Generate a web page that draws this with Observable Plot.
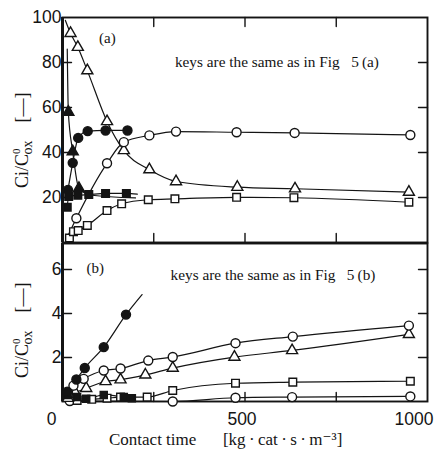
<!DOCTYPE html>
<html><head><meta charset="utf-8">
<script src="https://cdn.jsdelivr.net/npm/d3@7"></script>
<script src="https://cdn.jsdelivr.net/npm/@observablehq/plot@0.6"></script>
<style>
html,body{margin:0;padding:0;background:#fff;}
#chart{position:relative;width:436px;height:449px;overflow:hidden;}
#chart svg{position:absolute;left:0;display:block;}
</style></head><body><div id="chart"></div>
<script>
// ---------- axis ticks ----------
const xTickLabels = [0, 500, 1000];
const xInnerTicks = [250, 500, 750];
const yTicksA = [20, 40, 60, 80, 100];
const yInnerTicksA = [20, 40, 60, 80];
const yTicksB = [2, 4, 6];

// ---------- panel (a): [contact time, Ci/C0ox] ----------
const aOpenTri = [[22,93],[42,86.8],[68,76.4],[122,53.8],[168,40.9],[238,32.4],[311,27.1],[479,24.6],[637,23.9],[949,22.4]];
const aOpenTriStart = [[8,98.7]];
const aOpenCircle = [[38,10.8],[122,35.2],[168,44.6],[238,47.6],[311,49.3],[477,49.0],[636,48.7],[953,47.8]];
const aOpenCircleStart = [[12,2]];
const aOpenSquare = [[19,2],[30,4.8],[43,5.3],[68,7.6],[122,14.2],[162,17.2],[235,19.0],[308,19.4],[477,20.1],[634,19.9],[949,17.9]];
const aFilledCircle = [[15,23.4],[28,35.4],[43,46.5],[69,49.5],[118,49.8],[178,49.8]];
const aFilledTri = [[16,58],[28,40.4],[45,24.1]];
const aFilledTriLine = [[13,86],[16,58],[28,40.4],[45,24.1],[80,21],[200,19.8]];
const aFilledSquare = [[13,15.7],[17,20.5],[42,21],[72,21.3],[118,21.8],[175,21.8]];
const aFilledSquareEnd = [[205,21.5]];

// ---------- panel (b) ----------
const bFilledCircle = [[13,0.45],[38,1.0],[61,1.52],[113,2.47],[174,3.95]];
const bFilledCircleEnd = [[218,4.86]];
const bOpenCircle = [[15,0.35],[30,0.72],[58,1.03],[113,1.41],[159,1.5],[235,1.86],[302,2.02],[474,2.65],[631,2.95],[949,3.45]];
const bOpenTri = [[15,0.15],[35,0.4],[65,0.6],[118,0.91],[159,0.99],[227,1.21],[302,1.52],[471,2.02],[629,2.32],[949,3.05]];
const bOpenSquare = [[40,0.05],[80,0.1],[122,0.15],[159,0.2],[232,0.2],[302,0.5],[474,0.83],[631,0.88],[953,0.92]];
const bOpenCircleLow = [[20,0.02],[302,0.0],[474,0.17],[629,0.2],[953,0.23]];
const bFilledSquare = [[14,0.3],[40,0.2],[65,0.12],[113,0.3],[168,0.2],[190,0.15]];

const INK = "#141414";
const SERIF = "'Liberation Serif', 'DejaVu Serif', serif";
const SANS = "'Liberation Sans', Arial, sans-serif";
const X = d => d[0], Y = d => d[1];
const tickShape = {draw(ctx, l) { ctx.moveTo(0, 0); ctx.lineTo(0, -l); }};

function line(data) {
  return Plot.line(data, {x: X, y: Y, curve: "monotone-x", stroke: INK, strokeWidth: 1.2});
}
function dots(data, symbol, filled, r = 4.5) {
  return Plot.dot(data, {x: X, y: Y, symbol, r, fill: filled ? INK : "white", stroke: INK, strokeWidth: 1.4});
}
function frameMarks(ymax, innerY, withTopTicks) {
  const m = [
    Plot.frame({stroke: INK, strokeWidth: 1.9}),
    Plot.ruleX([0], {stroke: INK, strokeWidth: 3}),
    Plot.vector(innerY, {x: () => 0, y: d => d, length: 9, rotate: 90, anchor: "start", shape: tickShape, stroke: INK, strokeWidth: 1.4}),
    Plot.vector(innerY, {x: () => 1000, y: d => d, length: 9, rotate: -90, anchor: "start", shape: tickShape, stroke: INK, strokeWidth: 1.4}),
    Plot.vector(xInnerTicks, {x: d => d, y: () => 0, length: 9, rotate: 0, anchor: "start", shape: tickShape, stroke: INK, strokeWidth: 1.4})
  ];
  if (withTopTicks) m.push(Plot.vector(xInnerTicks, {x: d => d, y: () => ymax, length: 9, rotate: 180, anchor: "start", shape: tickShape, stroke: INK, strokeWidth: 1.4}));
  return m;
}
function addYLabel(svg, cx, startY) {
  const t = d3.select(svg).append("text")
    .attr("transform", `translate(${cx},${startY}) rotate(-90)`)
    .attr("text-anchor", "start")
    .attr("font-family", SERIF)
    .attr("font-size", 18)
    .attr("fill", INK);
  t.append("tspan").text("Ci/C");
  t.append("tspan").attr("font-size", 11).attr("dy", -8).text("0");
  t.append("tspan").attr("font-size", 14).attr("dx", -6).attr("dy", 12).text("ox");
  t.append("tspan").attr("dy", -4).text("\u2003[\u2014]");
}

const root = document.getElementById("chart");

// ---------- top panel ----------
const topPlot = Plot.plot({
  width: 436, height: 243,
  marginTop: 17, marginBottom: 1, marginLeft: 62, marginRight: 9,
  x: {domain: [0, 1000], axis: null},
  y: {domain: [0, 100], axis: null},
  style: {background: "white", overflow: "visible"},
  marks: [
    ...frameMarks(100, yInnerTicksA, true),
    Plot.text(yTicksA, {x: () => 0, y: d => d, text: d => String(d), textAnchor: "end", dx: -1, fontSize: 17.5, fontFamily: SANS, fill: INK}),
    line(aOpenTriStart.concat(aOpenTri)),
    line(aOpenCircleStart.concat(aOpenCircle)),
    line(aOpenSquare),
    line(aFilledCircle),
    line(aFilledTriLine),
    line(aFilledSquare.concat(aFilledSquareEnd)),
    dots(aOpenTri, "triangle", false, 4.1),
    dots(aOpenCircle, "circle", false),
    dots(aOpenSquare, "square", false, 4.3),
    dots(aFilledCircle, "circle", true),
    dots(aFilledTri, "triangle", true, 4.1),
    dots(aFilledSquare, "square", true, 4.3),
    Plot.text(["(a)"], {x: () => 123, y: () => 90.7, text: d => d, fontSize: 15, fontFamily: SERIF, fill: INK}),
    Plot.text(["keys are the same as in Fig\u2002 5\u2009(a)"], {x: () => 308, y: () => 80.3, text: d => d, textAnchor: "start", fontSize: 15.3, fontFamily: SERIF, fill: INK})
  ]
});
topPlot.style.top = "0px";
addYLabel(topPlot, 28, 188);
root.appendChild(topPlot);

// ---------- bottom panel ----------
const bottomPlot = Plot.plot({
  width: 436, height: 209,
  marginTop: 3, marginBottom: 48, marginLeft: 62, marginRight: 9,
  x: {domain: [0, 1000], axis: null},
  y: {domain: [0, 7.18], axis: null},
  style: {background: "transparent", overflow: "visible"},
  marks: [
    ...frameMarks(7.18, yTicksB, false),
    Plot.text(yTicksB, {x: () => 0, y: d => d, text: d => String(d), textAnchor: "end", dx: -1, fontSize: 17.5, fontFamily: SANS, fill: INK}),
    Plot.text(xTickLabels.filter(d => d === 0), {x: d => d, y: () => 0, text: d => String(d), textAnchor: "end", dx: -6, dy: 18, fontSize: 17.5, fontFamily: SANS, fill: INK}),
    Plot.text(xTickLabels.filter(d => d === 500), {x: d => d, y: () => 0, text: d => String(d), dx: -3, dy: 18, fontSize: 17.5, fontFamily: SANS, fill: INK}),
    Plot.text(xTickLabels.filter(d => d === 1000), {x: d => d, y: () => 0, text: d => String(d), textAnchor: "end", dx: 6, dy: 18, fontSize: 17.5, fontFamily: SANS, fill: INK}),
    Plot.text(["Contact time"], {x: () => 247, y: () => 0, text: d => d, dy: 38, fontSize: 17, fontFamily: SERIF, fill: INK}),
    Plot.text(["[kg\u2009\u00b7\u2009cat\u2009\u00b7\u2009s\u2009\u00b7\u2009m\u207b\u00b3]"], {x: () => 603, y: () => 0, text: d => d, dy: 38, fontSize: 17, fontFamily: SERIF, fill: INK}),
    line(bFilledCircle.concat(bFilledCircleEnd)),
    line(bOpenCircle),
    line(bOpenTri),
    line(bOpenSquare),
    line(bOpenCircleLow),
    line(bFilledSquare),
    dots(bOpenCircleLow, "circle", false),
    dots(bOpenSquare, "square", false, 4.3),
    dots(bOpenTri, "triangle", false, 4.1),
    dots(bOpenCircle, "circle", false),
    dots(bFilledSquare, "square", true, 4.0),
    dots(bFilledCircle, "circle", true),
    Plot.text(["(b)"], {x: () => 90, y: () => 6.05, text: d => d, fontSize: 15, fontFamily: SERIF, fill: INK}),
    Plot.text(["keys are the same as in Fig\u2002 5\u2009(b)"], {x: () => 296, y: () => 5.73, text: d => d, textAnchor: "start", fontSize: 15.3, fontFamily: SERIF, fill: INK})
  ]
});
bottomPlot.style.top = "240px";
addYLabel(bottomPlot, 28, 138);
root.appendChild(bottomPlot);
</script></body></html>
